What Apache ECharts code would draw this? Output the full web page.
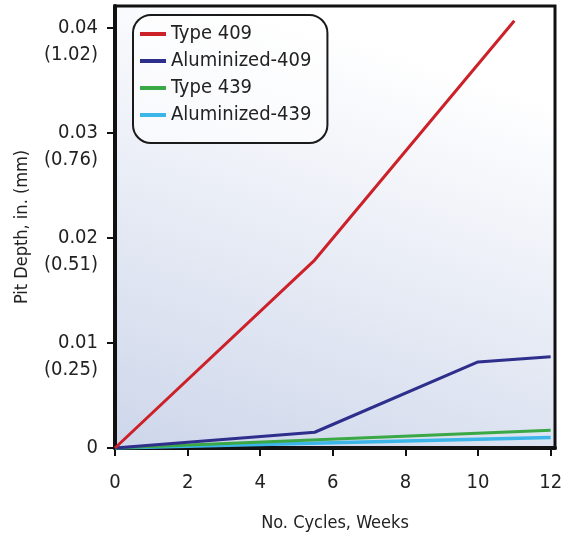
<!DOCTYPE html>
<html>
<head>
<meta charset="utf-8">
<script src="https://cdn.jsdelivr.net/npm/echarts@6/dist/echarts.min.js"></script>
<style>
  html, body { margin: 0; padding: 0; background: #ffffff; }
  #chart { width: 566px; height: 537px; }
</style>
</head>
<body>
<div id="chart"></div>
<script>
// Pit depth (inches) against exposure cycles (weeks)
const seriesNames = ['Type 409', 'Aluminized-409', 'Type 439', 'Aluminized-439'];

const type409Weeks = [0, 5.5, 11];
const type409Depth = [0, 0.0179, 0.0407];

const alum409Weeks = [0, 5.5, 10, 12];
const alum409Depth = [0, 0.0015, 0.0082, 0.0087];

const type439Weeks = [0, 12];
const type439Depth = [0, 0.0017];

const alum439Weeks = [0, 12];
const alum439Depth = [0, 0.001];

// Tick labels: inches with millimetres beneath
const depthTicks = [0, 0.01, 0.02, 0.03, 0.04];
const depthTickLabels = ['0', '0.01', '0.02', '0.03', '0.04'];
const depthTickLabelsMm = ['', '(0.25)', '(0.51)', '(0.76)', '(1.02)'];
const weekTicks = [0, 2, 4, 6, 8, 10, 12];

const colors = ['#cc2129', '#2e2f8c', '#3aa845', '#3cb5e8'];
const FONT = '"DejaVu Sans Condensed", "Liberation Sans", sans-serif';

function pairs(xs, ys) { return xs.map((x, i) => [x, ys[i]]); }

const chart = echarts.init(document.getElementById('chart'), null, { renderer: 'canvas' });

const lineSeries = [
  [type409Weeks, type409Depth, 3],
  [alum409Weeks, alum409Depth, 3],
  [type439Weeks, type439Depth, 3],
  [alum439Weeks, alum439Depth, 3.5]
].map((s, i) => ({
  name: seriesNames[i],
  type: 'line',
  data: pairs(s[0], s[1]),
  symbol: 'none',
  z: 10 - i,
  lineStyle: { color: colors[i], width: s[2] },
  itemStyle: { color: colors[i] }
}));

chart.setOption({
  animation: false,
  backgroundColor: '#ffffff',
  grid: {
    left: 115, right: 11, top: 6, bottom: 89,
    outerBoundsMode: 'none',
    containLabel: false,
    show: true,
    borderColor: '#111111',
    borderWidth: 3,
    backgroundColor: {
      type: 'linear', x: 0.35, y: 0, x2: 0, y2: 1,
      colorStops: [
        { offset: 0, color: '#ffffff' },
        { offset: 1, color: '#cdd6ea' }
      ]
    }
  },
  legend: {
    left: 133, top: 15,
    orient: 'vertical',
    data: seriesNames,
    icon: 'rect',
    itemWidth: 26, itemHeight: 4,
    itemGap: 5,
    padding: [8, 16, 17, 7],
    borderColor: '#1a1a1a', borderWidth: 2, borderRadius: 18,
    backgroundColor: 'rgba(255,255,255,0.6)',
    textStyle: { fontFamily: FONT, fontSize: 20, color: '#222222', lineHeight: 22 }
  },
  xAxis: {
    type: 'value',
    min: 0, max: 12.12,
    name: 'No. Cycles, Weeks',
    nameLocation: 'middle',
    nameGap: 66,
    nameTextStyle: { fontFamily: FONT, fontSize: 18, color: '#222222' },
    splitLine: { show: false },
    axisLine: { show: true, lineStyle: { color: '#111111', width: 4 } },
    axisTick: { show: true, customValues: weekTicks, length: 8, lineStyle: { color: '#111111', width: 2 } },
    axisLabel: {
      customValues: weekTicks,
      margin: 25,
      fontFamily: FONT, fontSize: 20, color: '#222222'
    }
  },
  yAxis: {
    type: 'value',
    min: 0, max: 0.0421,
    name: 'Pit Depth, in. (mm)',
    nameLocation: 'middle',
    nameGap: 84,
    nameTextStyle: { fontFamily: FONT, fontSize: 18, color: '#222222' },
    splitLine: { show: false },
    axisLine: { show: true, lineStyle: { color: '#111111', width: 4 } },
    axisTick: { show: true, customValues: depthTicks, length: 8, lineStyle: { color: '#111111', width: 2 } },
    axisLabel: {
      customValues: depthTicks,
      margin: 17,
      fontFamily: FONT, fontSize: 20, color: '#222222',
      lineHeight: 27,
      formatter: function (v) {
        const i = depthTicks.findIndex(t => Math.abs(t - v) < 1e-9);
        if (i < 0) return '';
        if (!depthTickLabelsMm[i]) return depthTickLabels[i];
        return ' \n' + depthTickLabels[i] + '\n' + depthTickLabelsMm[i];
      }
    }
  },
  series: lineSeries
});
</script>
</body>
</html>
